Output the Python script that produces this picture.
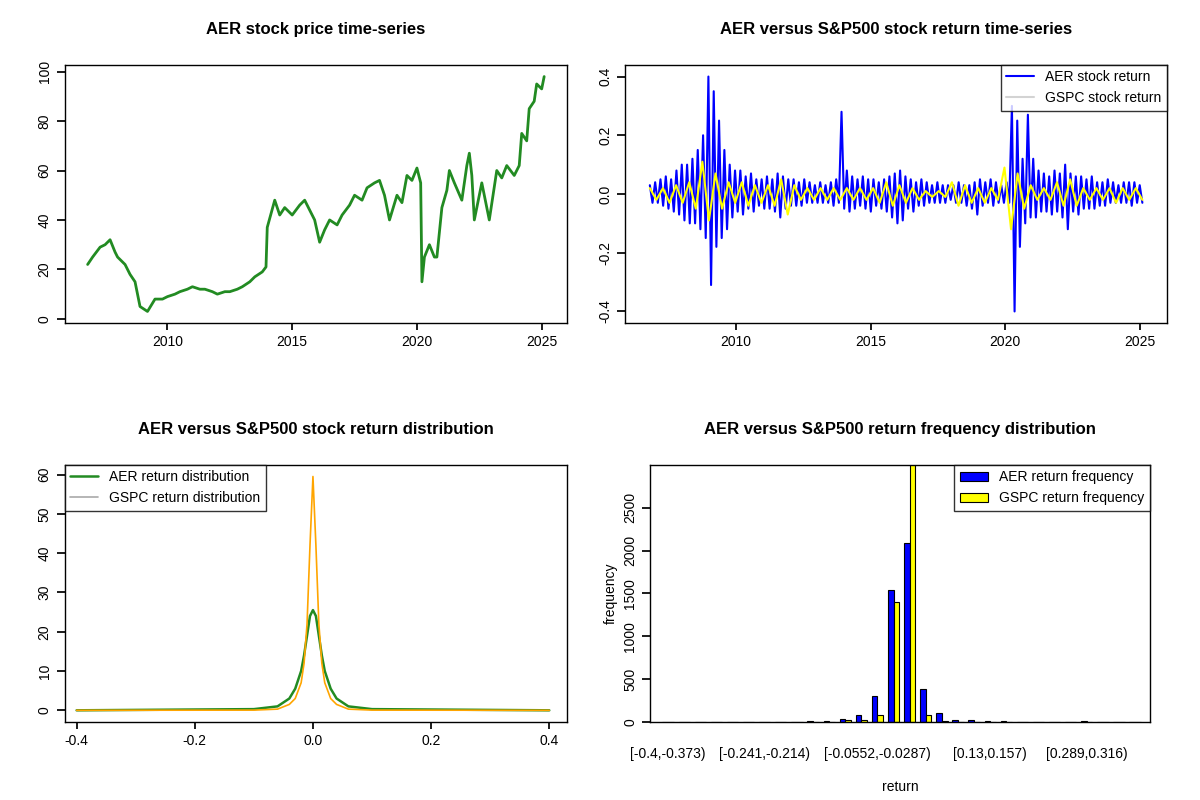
import numpy as np, pandas as pd, matplotlib
matplotlib.use("Agg")
import matplotlib.pyplot as plt, seaborn as sns
sns.set_theme(style="white")
plt.rcParams['font.family'] = ['Liberation Sans', 'DejaVu Sans']
plt.rcParams.update({'text.color':'black','axes.labelcolor':'black','xtick.color':'black','ytick.color':'black'})

price_years = [2006.8,2007.0,2007.3,2007.5,2007.7,2007.9,2008.0,2008.3,2008.5,2008.7,2008.9,2009.2,2009.5,2009.8,2010.0,2010.3,2010.5,2010.8,2011.0,2011.3,2011.5,2011.8,2012.0,2012.3,2012.5,2012.8,2013.0,2013.3,2013.5,2013.8,2013.95,2014.0,2014.3,2014.5,2014.7,2015.0,2015.3,2015.5,2015.7,2015.9,2016.1,2016.3,2016.5,2016.8,2017.0,2017.3,2017.5,2017.8,2018.0,2018.3,2018.5,2018.7,2018.9,2019.2,2019.4,2019.6,2019.8,2020.0,2020.15,2020.2,2020.3,2020.5,2020.7,2020.8,2021.0,2021.2,2021.3,2021.5,2021.8,2022.0,2022.1,2022.2,2022.3,2022.5,2022.6,2022.8,2022.9,2023.2,2023.4,2023.6,2023.9,2024.1,2024.2,2024.4,2024.5,2024.7,2024.8,2025.0,2025.1]
price_vals = [22,25,29,30,32,27,25,22,18,15,5,3,8,8,9,10,11,12,13,12,12,11,10,11,11,12,13,15,17,19,21,37,48,42,45,42,46,48,44,40,31,36,40,38,42,46,50,48,53,55,56,50,40,50,47,58,56,61,55,15,25,30,25,25,45,52,60,55,48,62,67,58,40,50,55,45,40,60,57,62,58,62,75,72,85,88,95,93,98]

aer_ret = [0.03,-0.03,0.04,-0.03,
0.05,-0.04,0.06,-0.05,0.05,-0.06,0.08,-0.07,0.1,-0.09,
0.1,-0.1,0.12,-0.1,0.15,-0.12,0.2,-0.15,0.4,-0.31,
0.35,-0.18,0.25,-0.15,0.15,-0.12,0.1,-0.08,0.08,-0.06,
0.08,-0.07,0.06,-0.05,0.07,-0.06,0.05,-0.04,0.05,-0.05,
0.06,-0.05,0.05,-0.06,0.07,-0.08,0.06,-0.05,0.05,-0.04,
0.05,-0.04,0.04,-0.04,0.05,-0.03,0.04,-0.03,0.03,-0.03,
0.04,-0.03,0.03,-0.03,0.04,-0.04,0.05,-0.03,0.28,-0.05,
0.08,-0.06,0.06,-0.05,0.05,-0.04,0.06,-0.05,0.05,-0.06,
0.05,-0.04,0.04,-0.05,0.05,-0.06,0.06,-0.08,0.07,-0.1,
0.08,-0.09,0.06,-0.05,0.05,-0.06,0.04,-0.04,0.05,-0.04,
0.04,-0.03,0.03,-0.03,0.04,-0.03,0.03,-0.03,0.03,-0.02,
0.03,-0.03,0.04,-0.03,0.03,-0.04,0.03,-0.05,0.04,-0.07,
0.05,-0.04,0.04,-0.03,0.05,-0.04,0.04,-0.03,0.03,-0.03,
0.04,-0.03,0.3,-0.4,0.25,-0.18,0.12,-0.1,0.27,-0.08,
0.12,-0.08,0.08,-0.06,0.07,-0.06,0.06,-0.07,0.08,-0.06,
0.07,-0.08,0.1,-0.12,0.07,-0.06,0.06,-0.07,0.06,-0.05,
0.05,-0.05,0.06,-0.05,0.04,-0.04,0.04,-0.04,0.05,-0.03,
0.04,-0.03,0.03,-0.03,0.04,-0.03,0.04,-0.04,0.04,-0.03,
0.03,-0.03]
gspc_ret = [0.02,-0.02,
0.02,-0.03,0.03,-0.03, 0.04,-0.05,0.11,-0.09, 0.07,-0.05,0.04,-0.03,
0.04,-0.04,0.03,-0.03, 0.03,-0.04,0.05,-0.07, 0.03,-0.02,0.02,-0.02,
0.02,-0.02,0.02,-0.02, 0.02,-0.02,0.02,-0.02, 0.02,-0.03,0.04,-0.04,
0.03,-0.03,0.02,-0.02, 0.01,-0.01,0.01,-0.01, 0.04,-0.04,0.03,-0.03,
0.02,-0.03,0.02,-0.02, 0.09,-0.12,0.07,-0.05, 0.03,-0.02,0.02,-0.02,
0.04,-0.04,0.05,-0.04, 0.02,-0.02,0.02,-0.02, 0.02,-0.03,0.02,-0.02,
0.02,-0.02]
ret_start, ret_end = 2006.8, 2025.1

dens_x = [-0.4,-0.1,-0.06,-0.04,-0.03,-0.02,-0.015,-0.01,-0.005,0,0.005,0.01,0.015,0.02,0.03,0.04,0.06,0.1,0.4]
dens_aer = [0,0.3,1,3,5.5,10,14,19,24,25.5,24,19,14,10,5.5,3,1,0.3,0]
dens_gspc = [0,0.05,0.3,1.5,3,7,12,22,42,59.5,42,22,12,7,3,1.5,0.3,0.05,0]

bin_labels = ["[-0.4,-0.373)"] + [""]*5 + ["[-0.241,-0.214)"] + [""]*6 + ["[-0.0552,-0.0287)"] + [""]*6 + ["[0.13,0.157)"] + [""]*5 + ["[0.289,0.316)"] + [""]*3
hist_aer = [1,1,1,1,1,1,1,1,5,10,10,40,80,305,1540,2090,385,110,28,28,12,12,2,2,2,2,12,2,2,2]
hist_gspc = [0,0,0,0,0,0,0,0,1,2,2,20,20,87,1397,3100,87,16,4,4,2,2,0,0,0,0,2,0,0,0]

fig = plt.figure(figsize=(12,8), dpi=100)
ax1 = fig.add_axes([0.054,0.596,0.4185,0.323])
ax2 = fig.add_axes([0.521,0.596,0.4515,0.323])
ax3 = fig.add_axes([0.054,0.0975,0.4185,0.3215])
ax4 = fig.add_axes([0.542,0.0975,0.416,0.3215])
tfont = dict(fontsize=12, fontweight='bold', pad=22)

sns.lineplot(x=price_years, y=price_vals, ax=ax1, color='forestgreen', lw=2)
ax1.set_title("AER stock price time-series", **tfont)
ax1.set_yticks([0,20,40,60,80,100]); ax1.set_xticks([2010,2015,2020,2025])

ta = np.linspace(ret_start, ret_end, len(aer_ret))
tg = np.linspace(ret_start, ret_end, len(gspc_ret))
sns.lineplot(x=ta, y=aer_ret, ax=ax2, color='blue', lw=1.5, label='AER stock return')
sns.lineplot(x=tg, y=gspc_ret, ax=ax2, color='yellow', lw=1.5, label='GSPC stock return')
ax2.set_title("AER versus S&P500 stock return time-series", **tfont)
ax2.set_yticks([-0.4,-0.2,0,0.2,0.4]); ax2.set_yticklabels(["-0.4","-0.2","0.0","0.2","0.4"])
ax2.set_xticks([2010,2015,2020,2025])
leg = ax2.legend(loc='upper right', frameon=True, fancybox=False, edgecolor='black', fontsize=10, borderaxespad=0)
leg.get_lines()[1].set_color('lightgray')

sns.lineplot(x=dens_x, y=dens_aer, ax=ax3, color='forestgreen', lw=1.8, label='AER return distribution')
sns.lineplot(x=dens_x, y=dens_gspc, ax=ax3, color='orange', lw=1.2, label='GSPC return distribution')
ax3.set_title("AER versus S&P500 stock return distribution", **tfont)
ax3.set_xlim(-0.42,0.43); ax3.set_yticks([0,10,20,30,40,50,60]); ax3.set_xticks([-0.4,-0.2,0,0.2,0.4])
ax3.set_xticklabels(["-0.4","-0.2","0.0","0.2","0.4"])
leg = ax3.legend(loc='upper left', frameon=True, fancybox=False, edgecolor='black', fontsize=10, borderaxespad=0)
leg.get_lines()[1].set_color('darkgray')

df = pd.DataFrame({'bin': list(range(30))*2, 'count': hist_aer+hist_gspc,
                   'series': ['AER return frequency']*30 + ['GSPC return frequency']*30})
sns.barplot(data=df, x='bin', y='count', hue='series', palette=['blue','yellow'], ax=ax4,
            edgecolor='black', linewidth=0.8, width=0.7, saturation=1)
ax4.set_ylim(0,3000); ax4.set_yticks([0,500,1000,1500,2000,2500])
ax4.set_xticks(range(30)); ax4.set_xticklabels(bin_labels)
ax4.tick_params(axis='x', length=0, pad=18)
ax4.set_xlim(-1.1,29.9)
ax4.set_xlabel("return", fontsize=10, labelpad=14); ax4.set_ylabel("frequency", fontsize=10)
ax4.set_title("AER versus S&P500 return frequency distribution", **tfont)
ax4.legend(loc='upper right', frameon=True, fancybox=False, edgecolor='black', fontsize=10, borderaxespad=0, title=None)

for ax in [ax1,ax2,ax3,ax4]:
    for s in ax.spines.values(): s.set_color('black'); s.set_linewidth(1)
    ax.tick_params(axis='both', labelsize=10, direction='out', colors='black', left=True, bottom=True)
    for lab in ax.get_yticklabels(): lab.set_rotation(90); lab.set_va('center')
    if ax is not ax4: ax.set_xlabel(""); ax.set_ylabel("")
for ax in [ax1,ax2,ax3]:
    ax.tick_params(axis='x', length=5)
fig.savefig("out.png", dpi=100, facecolor='white')
